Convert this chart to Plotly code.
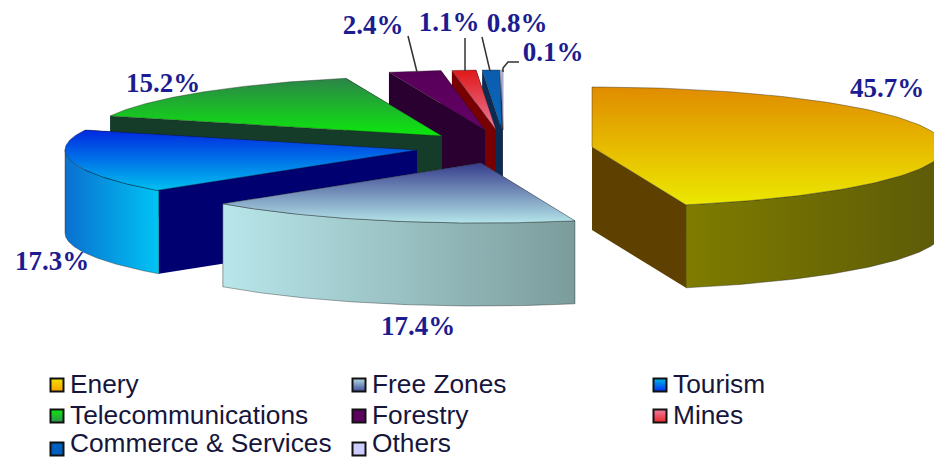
import numpy as np
import plotly.graph_objects as go

# Data (legend order, clockwise from 12 o'clock)
sectors = ["Enery", "Free Zones", "Tourism", "Telecommunications", "Forestry", "Mines", "Commerce & Services", "Others"]
shares = [45.7, 17.4, 17.3, 15.2, 2.4, 1.1, 0.8, 0.1]

# Projection and explosion layout (pixel space of the axes)
W, H = 934, 461
RX, RY, DEPTH = 352, 60, 83
apex_x = [592, 481, 417, 442, 485, 496, 502, 503]
apex_y = [147, 163, 150, 136, 130, 130, 130, 130]
draw_order = [7, 6, 5, 4, 3, 2, 1, 0]

# Style
top_from = ["#e08c00", "#363c8c", "#0028e0", "#2c8448", "#560058", "#e01818", "#0a5cae", "#ccccff"]
top_to = ["#ece800", "#b4e4e8", "#00c0f0", "#0ce80c", "#660068", "#e87ca0", "#0a68c0", "#ccccff"]
wall_from = ["#7f7c00", "#b8e6ea", "#0a70d0", "#143c28", "#2a0030", "#780000", "#0a2c54", "#333355"]
wall_to = ["#5c5a08", "#7c9c9c", "#00c4f4", "#143c28", "#2a0030", "#780000", "#0a2c54", "#333355"]
side = ["#5e4000", "#6a9090", "#000070", "#143c28", "#2a0030", "#780000", "#0a2c54", "#333355"]
swatch_from = ["#ffa000", "#3c4c9c", "#0030f0", "#2c9050", "#5c0060", "#e82828", "#0060c0", "#ccccff"]
swatch_to = ["#f0e000", "#b4dce4", "#00b8e8", "#0ce80c", "#5c0060", "#f07ca0", "#0060c0", "#ccccff"]

label_x = [887, 418, 52, 163, 373, 449, 517, 553]
label_y = [90, 328, 263, 85, 27, 24, 25, 54]
leaders = [([408, 417], [36, 72]), ([465, 465], [38, 71]), ([482, 490], [37, 71]), ([519, 508, 503, 503], [62, 62, 68, 72])]

legend_col_x = [57, 359, 660]
legend_row_y = [385, 416, 449]
legend_text_y = [386, 417, 445]

EDGE = dict(color="rgba(30,30,30,0.55)", width=0.7)
NO_EDGE = dict(width=0)
fig = go.Figure()


def poly(i, xs, ys, scale_from, scale_to, kind, line=EDGE):
    if scale_from == scale_to:
        grad = dict(fillcolor=scale_from)
    else:
        grad = dict(fillgradient=dict(type=kind, colorscale=[[0, scale_from], [1, scale_to]]))
    fig.add_trace(go.Scatter(
        x=np.r_[xs, xs[0]], y=np.r_[ys, ys[0]], mode="lines", fill="toself", line=line,
        legendgroup=sectors[i], showlegend=False, hoverinfo="skip", **grad))


edges = np.r_[0, np.cumsum(shares)] / np.sum(shares) * 2 * np.pi
for i in draw_order:
    a0, a1 = edges[i], edges[i + 1]
    cx, cy = apex_x[i], apex_y[i]
    px = lambda a: cx + RX * np.sin(a)
    py = lambda a: cy - RY * np.cos(a)
    # radial faces
    for a in (a1, a0):
        poly(i, np.array([cx, px(a), px(a), cx]), np.array([cy, py(a), py(a) + DEPTH, cy + DEPTH]),
             side[i], side[i], "horizontal", NO_EDGE)
    # outer wall, front half only
    w0, w1 = max(a0, np.pi / 2), min(a1, 3 * np.pi / 2)
    if w1 > w0:
        t = np.linspace(w0, w1, 80)
        poly(i, np.r_[px(t), px(t[::-1])], np.r_[py(t), py(t[::-1]) + DEPTH], wall_from[i], wall_to[i], "horizontal")
    # top face (the reversed y axis flips a vertical gradient)
    t = np.linspace(a0, a1, 120)
    poly(i, np.r_[cx, px(t)], np.r_[cy, py(t)], top_to[i], top_from[i], "vertical")

for lx, ly in leaders:
    fig.add_trace(go.Scatter(x=lx, y=ly, mode="lines", line=dict(color="#333333", width=1.5),
                             showlegend=False, hoverinfo="skip"))

fig.add_trace(go.Scatter(
    x=label_x, y=label_y, mode="text", text=[f"{v}%" for v in shares], textposition="middle center",
    textfont=dict(family="Liberation Serif", size=27, color="#1c1c90", weight="bold"),
    showlegend=False, hoverinfo="skip"))

# Legend grid, row by row
for i, name in enumerate(sectors):
    lx = legend_col_x[i % 3]
    fig.add_trace(go.Scatter(
        x=[lx], y=[legend_row_y[i // 3]], mode="markers", name=name,
        marker=dict(symbol="square", size=13, color=swatch_to[i],
                    gradient=dict(type="vertical", color=swatch_from[i]),
                    line=dict(color="#111111", width=2)),
        showlegend=False, hoverinfo="skip",
    ))
    fig.add_trace(go.Scatter(
        x=[lx + 13], y=[legend_text_y[i // 3]], mode="text", name=name, text=[name], textposition="middle right",
        textfont=dict(family="Liberation Sans", size=26.3, color="#16163c"),
        showlegend=False, hoverinfo="skip",
    ))

fig.update_layout(
    width=W, height=H, margin=dict(l=0, r=0, t=0, b=0, autoexpand=False), paper_bgcolor="white", plot_bgcolor="white",
    xaxis=dict(range=[0, W], visible=False, fixedrange=True),
    yaxis=dict(range=[H, 0], visible=False, fixedrange=True),
    showlegend=False,
)
fig.write_html("out.html", config={"displayModeBar": False}, post_script="document.body.style.margin='0';")
